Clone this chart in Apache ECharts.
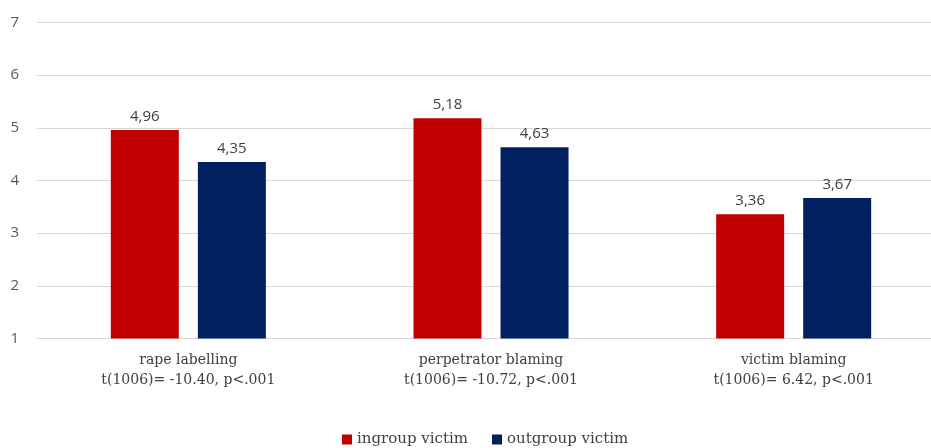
<!DOCTYPE html>
<html>
<head>
<meta charset="utf-8">
<script src="https://cdn.jsdelivr.net/npm/echarts@6/dist/echarts.min.js"></script>
<style>html,body{margin:0;padding:0;background:#fff;overflow:hidden;width:931px;height:448px;}#c{width:960px;height:448px;}</style>
</head>
<body>
<div id="c"></div>
<script>
const categories = ["rape labelling", "perpetrator blaming", "victim blaming"];
const tests = ["t(1006)= -10.40, p<.001", "t(1006)= -10.72, p<.001", "t(1006)= 6.42, p<.001"];
const ingroup = [4.96, 5.18, 3.36];
const outgroup = [4.35, 4.63, 3.67];
const seriesNames = ["ingroup victim", "outgroup victim"];
const yTicks = { min: 1, max: 7, interval: 1 };

const chart = echarts.init(document.getElementById('c'));
const valLabel = {
  show: true, position: 'top', distance: 6,
  fontFamily: 'Open Sans, Noto Sans, sans-serif', fontSize: 15, color: '#404040',
  formatter: p => p.value.toFixed(2).replace('.', ',')
};
chart.setOption({
  animation: false,
  grid: { left: 37, top: 22.5, width: 908, height: 316 },
  legend: {
    top: 427, left: 337,
    itemWidth: 10, itemHeight: 10, itemGap: 24, icon: 'rect',
    textStyle: { fontFamily: 'DejaVu Serif, serif', fontSize: 15, color: '#404040' },
    data: seriesNames
  },
  xAxis: {
    type: 'category',
    data: categories.map((c, i) => c + '\n' + tests[i]),
    axisLine: { lineStyle: { color: '#d9d9d9' } },
    axisTick: { show: false },
    axisLabel: { margin: 12, lineHeight: 20, fontFamily: 'DejaVu Serif, serif', fontSize: 14, color: '#404040', interval: 0 }
  },
  yAxis: {
    type: 'value', min: yTicks.min, max: yTicks.max, interval: yTicks.interval,
    axisLine: { show: false }, axisTick: { show: false },
    splitLine: { lineStyle: { color: '#d9d9d9' } },
    axisLabel: { margin: 18, fontFamily: 'Open Sans, Noto Sans, sans-serif', fontSize: 15, color: '#595959' }
  },
  series: [
    { name: seriesNames[0], type: 'bar', data: ingroup, barWidth: 68, barGap: '28%',
      itemStyle: { color: '#C00000' }, label: valLabel },
    { name: seriesNames[1], type: 'bar', data: outgroup, barWidth: 68,
      itemStyle: { color: '#002060' }, label: valLabel }
  ]
});
</script>
</body>
</html>
